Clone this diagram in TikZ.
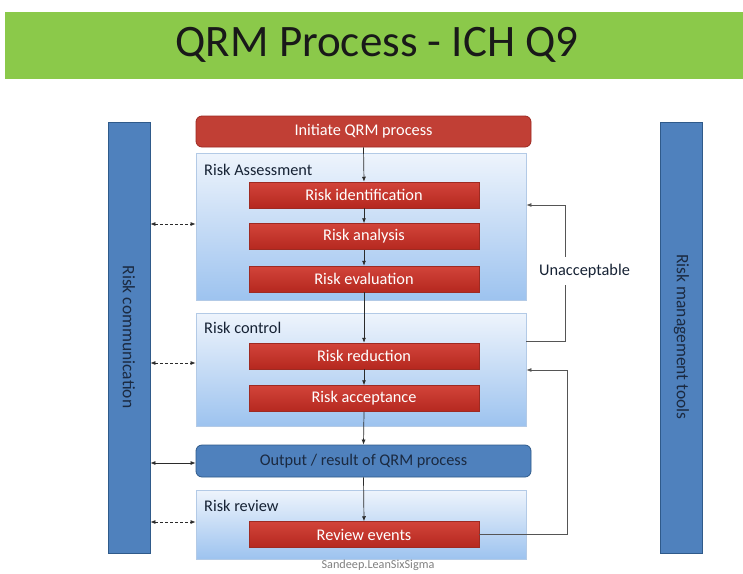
\documentclass[tikz,border=0pt]{standalone}
\usepackage{fontspec}
\setmainfont{Carlito}
\usetikzlibrary{arrows.meta}
\definecolor{banner}{HTML}{8BC94A}
\definecolor{barblue}{HTML}{4F81BD}
\definecolor{barline}{HTML}{2F5A8A}
\definecolor{darktxt}{HTML}{1B2A41}
\definecolor{redtop}{HTML}{D2443A}
\definecolor{redbot}{HTML}{B5281F}
\definecolor{redline}{HTML}{9E2A22}
\definecolor{boxtop}{HTML}{EEF4FC}
\definecolor{boxbot}{HTML}{9DC3EF}
\definecolor{boxline}{HTML}{B3CAE6}
\definecolor{arrowc}{HTML}{2B2B2B}
\definecolor{loopc}{HTML}{555555}
\tikzset{
  vbar/.style={draw=barline, fill=barblue, line width=0.8pt, minimum width=42, minimum height=431, inner sep=0},
  vtext/.style={rotate=-90, text=darktxt, font=\fontsize{17.5}{20}\selectfont},
  container/.style={draw=boxline, top color=boxtop, bottom color=boxbot, line width=0.8pt, minimum width=330, inner sep=0},
  stepbox/.style={draw=redline, top color=redtop, bottom color=redbot, line width=0.5pt, minimum width=230, minimum height=26, inner sep=0, text=white, font=\fontsize{16.3}{18}\selectfont},
  roundred/.style={draw=redline, fill=redtop!92!black, rounded corners=6, line width=0.8pt, minimum width=335, minimum height=31, inner sep=0, text=white, font=\fontsize{16.3}{18}\selectfont},
  roundblue/.style={draw=barline, fill=barblue, rounded corners=6, line width=0.8pt, minimum width=335, minimum height=32, inner sep=0, text=darktxt, font=\fontsize{16.3}{18}\selectfont},
  boxlabel/.style={anchor=west, inner sep=0, text=darktxt!80!black, font=\fontsize{16.3}{18}\selectfont},
  flow/.style={draw=arrowc, line width=0.7pt, -{Latex[length=5pt,width=4pt]}},
  loopline/.style={draw=loopc, line width=0.8pt, -{Latex[length=5pt,width=4pt]}},
  dasharrow/.style={draw=arrowc, line width=0.7pt, dashed, dash pattern=on 3pt off 2pt, {Latex[length=5pt,width=4pt]}-{Latex[length=5pt,width=4pt]}},
  solidarrow/.style={draw=arrowc, line width=0.7pt, {Latex[length=5pt,width=4pt]}-{Latex[length=5pt,width=4pt]}},
}
\begin{document}
\begin{tikzpicture}[x=1pt, y=-1pt]
\useasboundingbox (0,0) rectangle (743,573);
\fill[white] (0,0) rectangle (743,573);
% banner
\node[fill=banner, minimum width=738, minimum height=67, inner sep=0] (banner) at (374,45.5) {};
\node[text=black!90, font=\fontsize{45}{50}\selectfont] (title) at (377,45) {QRM Process - ICH Q9};
% side bars
\node[vbar] (lbar) at (129,337.5) {};
\node[vtext] (ltext) at (129,337) {Risk communication};
\node[vbar] (rbar) at (681.5,337.5) {};
\node[vtext] (rtext) at (681.5,337) {Risk management tools};
% containers
\node[container, minimum height=147] (ra) at (361,226.5) {};
\node[boxlabel] (ralbl) at (204,170) {Risk Assessment};
\node[container, minimum height=113] (rc) at (361,369.5) {};
\node[boxlabel] (rclbl) at (204,328) {Risk control};
\node[container, minimum height=69] (rr) at (361,524.5) {};
\node[boxlabel] (rrlbl) at (204,506) {Risk review};
% rounded boxes
\node[roundred] (init) at (363.5,131.5) {Initiate QRM process};
\node[roundblue] (out) at (363.5,461) {Output / result of QRM process};
% steps
\node[stepbox] (rid) at (364,195) {Risk identification};
\node[stepbox] (ran) at (364,236.5) {Risk analysis};
\node[stepbox] (rev) at (364,279) {Risk evaluation};
\node[stepbox] (rred) at (364,356) {Risk reduction};
\node[stepbox] (racc) at (364,398.5) {Risk acceptance};
\node[stepbox] (revw) at (364,534.5) {Review events};
% main flow
\draw[flow] (init.south) -- (rid.north);
\draw[flow] (rid.south) -- (ran.north);
\draw[flow] (ran.south) -- (rev.north);
\draw[flow] (rev.south) -- (rred.north);
\draw[flow] (rred.south) -- (racc.north);
\draw[flow] (racc.south) -- (out.north);
\draw[flow] (out.south) -- (revw.north);
% loops
\coordinate (u1) at (565,341);
\coordinate (u2) at (565,205);
\draw[loopline] (rc.east |- u1) -- (u1) -- (u2) -- (ra.east |- u2);
\node[fill=white, inner sep=1pt, minimum height=28, text=darktxt!80!black, font=\fontsize{16.3}{18}\selectfont] (unacc) at (584.5,271) {Unacceptable};
\coordinate (v1) at (567,534.5);
\coordinate (v2) at (567,370);
\draw[loopline] (revw.east) -- (v1) -- (v2) -- (rc.east |- v2);
% communication arrows
\coordinate (ya) at (0,224);
\coordinate (yc) at (0,363);
\coordinate (yo) at (0,463);
\coordinate (yr) at (0,522);
\draw[dasharrow] (lbar.east |- ya) -- (ra.west |- ya);
\draw[dasharrow] (lbar.east |- yc) -- (rc.west |- yc);
\draw[solidarrow] (lbar.east |- yo) -- (out.west |- yo);
\draw[dasharrow] (lbar.east |- yr) -- (rr.west |- yr);
% watermark
\node[text=black!50, font=\fontsize{12.2}{14}\selectfont] (wm) at (378,565) {Sandeep.LeanSixSigma};
\end{tikzpicture}
\end{document}
